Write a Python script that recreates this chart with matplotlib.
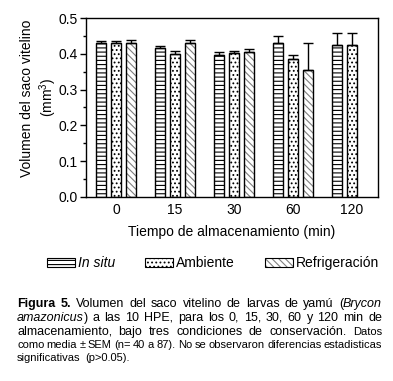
import numpy as np
import matplotlib
matplotlib.use("Agg")
import matplotlib.pyplot as plt
from matplotlib.patches import Patch
from matplotlib.legend_handler import HandlerTuple
from matplotlib.ticker import MultipleLocator

plt.rcParams['font.family'] = ['Liberation Sans', 'DejaVu Sans']
plt.rcParams['mathtext.fontset'] = 'custom'
plt.rcParams['mathtext.rm'] = 'Liberation Sans'
plt.rcParams['hatch.linewidth'] = 0.8

# data
times = ['0', '15', '30', '60', '120']
in_situ = [0.429, 0.415, 0.397, 0.429, 0.425]
in_situ_err = [0.008, 0.006, 0.007, 0.021, 0.032]
ambiente = [0.430, 0.400, 0.402, 0.385, 0.425]
ambiente_err = [0.007, 0.008, 0.006, 0.011, 0.032]
refrig = [0.430, 0.429, 0.405, 0.354, np.nan]
refrig_err = [0.008, 0.009, 0.008, 0.075, np.nan]

W, H = 393, 381
fig = plt.figure(figsize=(W / 100, H / 100), dpi=100)
ax = fig.add_axes([86 / W, 1 - 197 / H, 292 / W, 179 / H])

x = np.arange(len(times))
bw = 0.17
off = 0.254

def draw(xs, vals, errs, hatch, hcolor):
    ax.bar(xs, vals, bw, color='white', edgecolor=hcolor, hatch=hatch, lw=0, zorder=2)
    ax.bar(xs, vals, bw, fill=False, edgecolor='black', lw=1.0, zorder=3)
    ax.errorbar(xs, vals, yerr=[np.zeros(len(vals)), errs], fmt='none',
                ecolor='black', elinewidth=1.0, capsize=3.5, capthick=1.0, zorder=4)

draw(x - off, in_situ, in_situ_err, '----', 'black')
draw(x, ambiente, ambiente_err, '....', 'black')
draw(x + off, refrig, refrig_err, '\\\\\\\\\\', '#808080')

ax.set_xlim(-0.51, 4.44)
ax.set_ylim(0, 0.5)
ax.yaxis.set_major_locator(MultipleLocator(0.1))
ax.yaxis.set_minor_locator(MultipleLocator(0.05))
ax.set_yticks(np.arange(0, 0.51, 0.1))
ax.set_yticklabels(['0.0', '0.1', '0.2', '0.3', '0.4', '0.5'])
ax.set_xticks(x)
ax.set_xticklabels(times)
ax.tick_params(axis='y', which='major', length=4, width=1, labelsize=10, pad=2)
ax.tick_params(axis='y', which='minor', length=2, width=1)
ax.tick_params(axis='x', length=0, labelsize=10, pad=4)
for s in ax.spines.values():
    s.set_linewidth(1.0)

ax.set_xlabel('Tiempo de almacenamiento (min)', fontsize=10, labelpad=6)
fig.text(27 / W, 1 - 98 / H, 'Volumen del saco vitelino', rotation=90,
         ha='center', va='center', fontsize=10)
fig.text(48 / W, 1 - 97 / H, '(mm$^3$)', rotation=90,
         ha='center', va='center', fontsize=10)

# legend
h1 = Patch(facecolor='white', edgecolor='black', hatch='----', lw=0.8)
h2 = Patch(facecolor='white', edgecolor='black', hatch='....', lw=0.8)
h3a = Patch(facecolor='white', edgecolor='#808080', hatch='\\\\\\\\\\', lw=0)
h3b = Patch(fill=False, edgecolor='black', lw=0.8)
leg = fig.legend([h1, h2, (h3a, h3b)], ['In situ', 'Ambiente', 'Refrigeración'],
                 handler_map={tuple: HandlerTuple(ndivide=1, pad=0)},
                 loc='center', bbox_to_anchor=(213 / W, 1 - 263 / H), ncol=3,
                 frameon=False, fontsize=10, handlelength=2.0, handleheight=0.6,
                 handletextpad=0.2, columnspacing=2.2, borderaxespad=0)
leg.get_texts()[0].set_fontstyle('italic')

# caption
X0, X1 = 17, 382
N = dict(fontsize=9)
B = dict(fontsize=9, fontweight='bold')
I = dict(fontsize=9, fontstyle='italic')
S = dict(fontsize=8)

def words(txt, st):
    return [[(w, st)] for w in txt.split()]

lines = [
    (307, [[('Figura', B)], [('5.', B)]] + words('Volumen del saco vitelino de larvas de yamú', N)
     + [[('(', N), ('Brycon', I)]], True),
    (321, [[('amazonicus', I), (')', N)]]
     + words('a las 10 HPE, para los 0, 15, 30, 60 y 120 min de', N), True),
    (335, words('almacenamiento, bajo tres condiciones de conservación.', N)
     + words('Datos', S), True),
    (348.5, words('como media ± SEM (n= 40 a 87). No se observaron diferencias estadisticas', S), True),
    (361, words('significativas  (p>0.05).', S), False),
]

r = fig.canvas.get_renderer()
for y, ws, just in lines:
    items = []
    for w in ws:
        frags = []
        for s, st in w:
            t = fig.text(0, 1 - y / H, s, va='baseline', ha='left', **st)
            frags.append((t, t.get_window_extent(r).width))
        items.append(frags)
    total = sum(wd for f in items for _, wd in f)
    gap = (X1 - X0 - total) / (len(items) - 1) if just else 5
    xp = X0
    for frags in items:
        for t, wd in frags:
            t.set_x(xp / W)
            xp += wd
        xp += gap

fig.savefig('out.png', dpi=100)
